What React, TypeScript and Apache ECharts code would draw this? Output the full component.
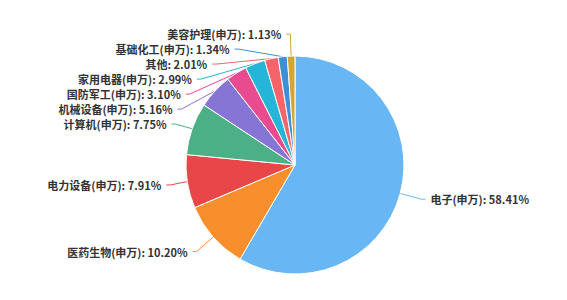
import React, { useEffect, useRef } from "react";
import * as echarts from "echarts";

const categories = [
  "电子(申万)",
  "医药生物(申万)",
  "电力设备(申万)",
  "计算机(申万)",
  "机械设备(申万)",
  "国防军工(申万)",
  "家用电器(申万)",
  "其他",
  "基础化工(申万)",
  "美容护理(申万)",
];
const values = [58.41, 10.2, 7.91, 7.75, 5.16, 3.1, 2.99, 2.01, 1.34, 1.13];
const colors = [
  "#68b7f4",
  "#f98e2c",
  "#e9464a",
  "#4bb085",
  "#8675d5",
  "#e84b90",
  "#25b5d8",
  "#f5646b",
  "#3e8fd5",
  "#d4a531",
];

export default function App() {
  const ref = useRef<HTMLDivElement>(null);
  useEffect(() => {
    document.body.style.margin = "0";
    const chart = echarts.init(ref.current!, null, { renderer: "svg" });
    chart.setOption({
      animation: false,
      color: colors,
      series: [
        {
          type: "pie",
          center: [295, 165],
          radius: [0, 109],
          startAngle: 90,
          clockwise: true,
          data: categories.map((n, i) => ({ name: n, value: values[i] })),
          itemStyle: { borderColor: "#fff", borderWidth: 1 },
          label: {
            show: true,
            formatter: (p: any) => `${p.name}: ${p.value.toFixed(2)}%`,
            fontSize: 11,
            lineHeight: 13,
            color: "#333",
            fontWeight: "bold",
            fontFamily: "Noto Sans CJK SC",
          },
          labelLine: { length: 22, length2: 4, lineStyle: { width: 1 } },
        },
      ],
    });
    return () => chart.dispose();
  }, []);
  return <div ref={ref} style={{ width: 567, height: 300 }} />;
}
